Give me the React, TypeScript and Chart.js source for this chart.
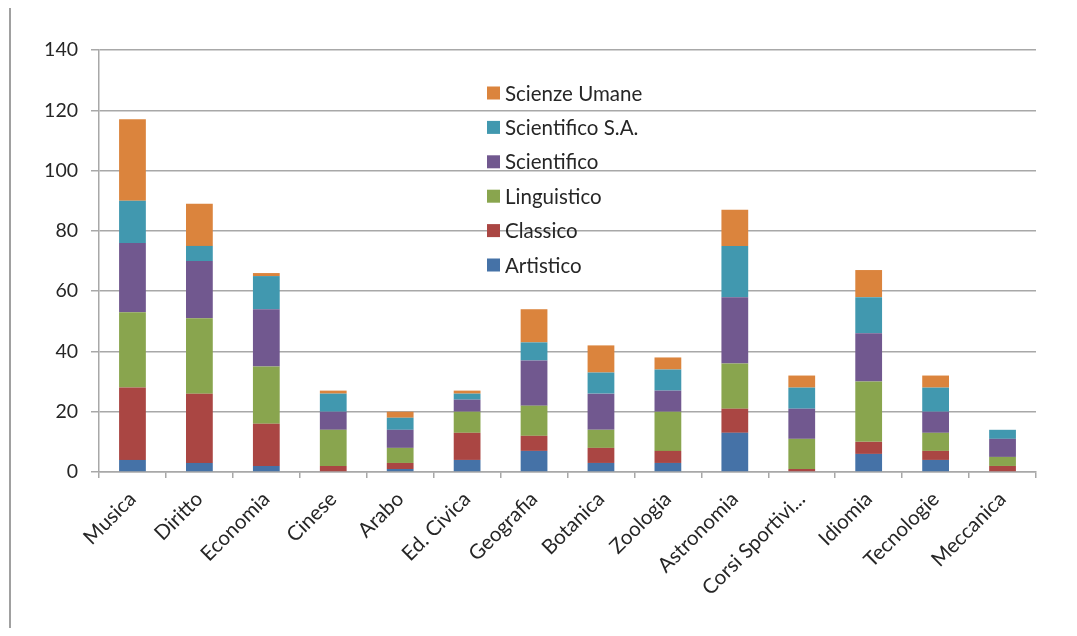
import React, { useEffect, useRef } from "react";
import { Chart, registerables } from "chart.js";

Chart.register(...registerables);

// Course names on the category axis
const categories = [
  "Musica",
  "Diritto",
  "Economia",
  "Cinese",
  "Arabo",
  "Ed. Civica",
  "Geografia",
  "Botanica",
  "Zoologia",
  "Astronomia",
  "Corsi Sportivi...",
  "Idiomia",
  "Tecnologie",
  "Meccanica",
];

// Students per course, split by school track
const artistico = [4, 3, 2, 0, 1, 4, 7, 3, 3, 13, 0, 6, 4, 0];
const classico = [24, 23, 14, 2, 2, 9, 5, 5, 4, 8, 1, 4, 3, 2];
const linguistico = [25, 25, 19, 12, 5, 7, 10, 6, 13, 15, 10, 20, 6, 3];
const scientifico = [23, 19, 19, 6, 6, 4, 15, 12, 7, 22, 10, 16, 7, 6];
const scientificoSA = [14, 5, 11, 6, 4, 2, 6, 7, 7, 17, 7, 12, 8, 3];
const scienzeUmane = [27, 14, 1, 1, 2, 1, 11, 9, 4, 12, 4, 9, 4, 0];

const yTicks = [0, 20, 40, 60, 80, 100, 120, 140];

const FONT = "Lato";
const TEXT = "#262626";
const GRID = "#a8a8a8";

// Legend drawn inside the plot area, top entry = last stacked series
const innerLegend = {
  id: "innerLegend",
  afterDraw(chart: any) {
    const ctx = chart.ctx;
    const area = chart.chartArea;
    const x0 = area.left + 388;
    const y0 = area.top + 43;
    const step = 34.4;
    const sets = chart.data.datasets.slice().reverse();
    ctx.save();
    ctx.font = `20.5px ${FONT}`;
    ctx.textBaseline = "middle";
    ctx.textAlign = "left";
    sets.forEach((ds: any, i: number) => {
      const cy = y0 + i * step;
      ctx.fillStyle = ds.backgroundColor;
      ctx.fillRect(x0, cy - 6.5, 13, 13);
      ctx.fillStyle = TEXT;
      ctx.fillText(ds.label, x0 + 18, cy + 1);
    });
    ctx.restore();
  },
};

export default function App() {
  const ref = useRef<HTMLCanvasElement | null>(null);

  useEffect(() => {
    if (!ref.current) return;
    const series = [
      { label: "Artistico", data: artistico, color: "#4572A7" },
      { label: "Classico", data: classico, color: "#AA4643" },
      { label: "Linguistico", data: linguistico, color: "#89A54E" },
      { label: "Scientifico", data: scientifico, color: "#71588F" },
      { label: "Scientifico S.A.", data: scientificoSA, color: "#4198AF" },
      { label: "Scienze Umane", data: scienzeUmane, color: "#DB843D" },
    ];
    const chart = new Chart(ref.current, {
      type: "bar",
      data: {
        labels: categories,
        datasets: series.map((s) => ({
          label: s.label,
          data: s.data,
          backgroundColor: s.color,
          borderWidth: 0,
          categoryPercentage: 1,
          barPercentage: 0.4,
        })),
      },
      options: {
        responsive: false,
        animation: false,
        layout: { padding: { top: 42, right: 33, left: 0, bottom: 0 } },
        plugins: {
          legend: { display: false },
          tooltip: { enabled: false },
        },
        scales: {
          x: {
            stacked: true,
            offset: true,
            afterFit: (scale: any) => {
              scale.height = 156;
            },
            grid: {
              offset: true,
              drawOnChartArea: false,
              drawTicks: true,
              tickLength: 6,
              color: GRID,
              lineWidth: 1.5,
            },
            border: { display: true, color: GRID, width: 1.5 },
            ticks: {
              autoSkip: false,
              minRotation: 45,
              maxRotation: 45,
              padding: 9,
              color: TEXT,
              font: { family: FONT, size: 20.5 },
            },
          },
          y: {
            stacked: true,
            min: 0,
            max: 140,
            afterFit: (scale: any) => {
              scale.width = 91;
            },
            afterBuildTicks: (scale: any) => {
              scale.ticks = yTicks.map((v) => ({ value: v }));
            },
            grid: {
              color: GRID,
              lineWidth: 1.5,
              tickLength: 8,
            },
            border: { display: true, color: GRID, width: 1.5 },
            ticks: {
              padding: 13,
              color: TEXT,
              font: { family: FONT, size: 19.5 },
            },
          },
        },
      },
      plugins: [innerLegend],
    });
    return () => chart.destroy();
  }, []);

  return (
    <div style={{ position: "relative", width: 1061, height: 620 }}>
      <div
        style={{
          position: "absolute",
          left: 1,
          top: -2,
          width: 1.5,
          height: 636,
          background: "#a0a0a0",
        }}
      />
      <canvas ref={ref} width={1061} height={620} style={{ display: "block" }} />
    </div>
  );
}
